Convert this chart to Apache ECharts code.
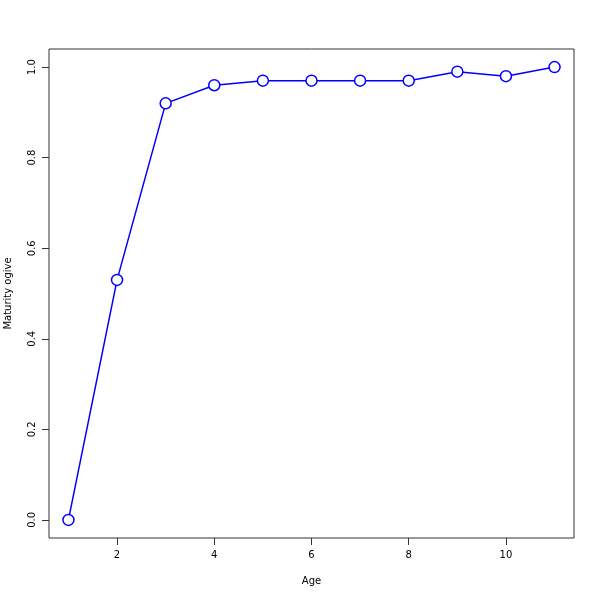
<!DOCTYPE html>
<html><head><meta charset="utf-8">
<script src="https://cdn.jsdelivr.net/npm/echarts@6/dist/echarts.min.js"></script>
<style>html,body{margin:0;padding:0;background:#fff}#c{width:600px;height:600px}</style>
</head><body><div id="c"></div>
<script>
const ages = [1,2,3,4,5,6,7,8,9,10,11];
const maturity = [0,0.53,0.92,0.96,0.97,0.97,0.97,0.97,0.99,0.98,1.0];
const xTicks = [2,4,6,8,10];
const yTicks = [0,0.2,0.4,0.6,0.8,1.0];
const chart = echarts.init(document.getElementById('c'), null, {renderer:'canvas'});
const font = 'DejaVu Sans';
chart.setOption({
  animation:false,
  backgroundColor:'#fff',
  grid:{left:49,right:26,top:49,bottom:62,show:true,borderColor:'#333',borderWidth:1,backgroundColor:'transparent',containLabel:false,outerBoundsMode:'none'},
  xAxis:{type:'value',min:0.6,max:11.4,name:'Age',nameLocation:'middle',nameGap:38,
    nameTextStyle:{fontFamily:font,fontSize:10,color:'#000'},
    axisLine:{show:false,onZero:false},splitLine:{show:false},
    axisTick:{show:true,length:7,customValues:xTicks,lineStyle:{color:'#333'}},
    axisLabel:{customValues:xTicks,margin:12,fontFamily:font,fontSize:10,color:'#000',formatter:v=>String(v)}},
  yAxis:{type:'value',min:-0.04,max:1.04,name:'Maturity ogive',nameLocation:'middle',nameGap:36,
    nameTextStyle:{fontFamily:font,fontSize:10,color:'#000'},
    axisLine:{show:false,onZero:false},splitLine:{show:false},
    axisTick:{show:true,length:7,customValues:yTicks,lineStyle:{color:'#333'}},
    axisLabel:{customValues:yTicks,rotate:90,margin:12,fontFamily:font,fontSize:10,color:'#000',formatter:v=>v.toFixed(1)}},
  series:[{type:'line',data:ages.map((a,i)=>[a,maturity[i]]),
    lineStyle:{color:'#0000ff',width:1.5},symbol:'circle',symbolSize:11,
    itemStyle:{color:'#fff',borderColor:'#0000ff',borderWidth:1.5}}]
});
</script></body></html>
